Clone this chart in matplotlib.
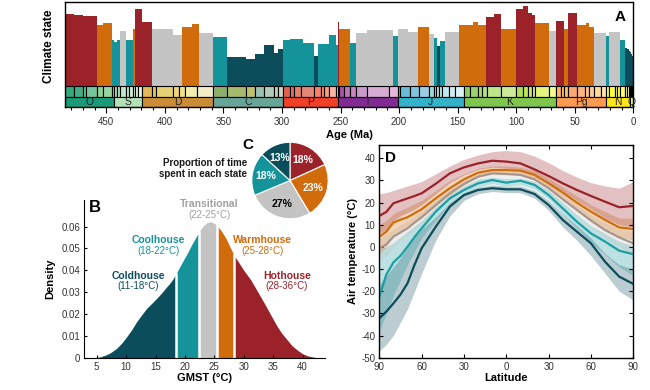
import matplotlib

matplotlib.use("Agg")
import matplotlib.pyplot as plt
import numpy as np

plt.rcParams["font.family"] = ["Liberation Sans", "DejaVu Sans"]
plt.rcParams["axes.unicode_minus"] = False

# climate state colours
COLORS = {
    "cold": "#0c4d5c",
    "cool": "#15939a",
    "tran": "#c4c4c4",
    "warm": "#d06c0c",
    "hot": "#9c2229",
}
LINE_COLORS = {
    "cold": "#0c4d5c",
    "cool": "#1c9ea2",
    "tran": "#a8968c",
    "warm": "#d06c0c",
    "hot": "#9c2229",
}

# ---- panel A: GMST per time bin (bin start age, Ma) ----
bar_start = [485.4, 477.7, 470.0, 458.4, 453.0, 445.2, 443.8, 440.8, 438.5, 433.4,
             427.4, 425.6, 419.2, 410.8, 393.3, 385.0, 377.0, 370.5, 358.9, 346.7,
             330.9, 323.2, 315.2, 307.0, 303.7, 298.9, 293.5, 282.0, 273.0, 269.0,
             259.5, 254.1, 251.9, 251.2, 242.0, 237.0, 227.0, 205.5, 201.3, 192.0,
             183.6, 174.1, 170.3, 167.4, 165.1, 160.8, 148.6, 137.1, 132.4, 125.8,
             119.0, 113.0, 100.5, 93.9, 89.8, 86.3, 83.6, 72.1, 66.0, 59.2,
             56.0, 47.8, 40.0, 37.8, 33.9, 23.0, 20.4, 11.6, 7.2, 5.3,
             3.6, 2.6, 1.8, 0.8]
bar_gmst = [32.5, 32.0, 31.5, 27.7, 28.5, 20.9, 20.0, 20.9, 24.7, 20.9,
            25.8, 34.6, 28.9, 25.8, 22.8, 26.6, 28.1, 23.9, 22.0, 12.9,
            12.2, 14.3, 18.6, 14.8, 16.7, 20.7, 21.3, 19.4, 13.7, 19.0,
            22.8, 18.6, 28.9, 25.8, 19.4, 23.9, 25.1, 22.4, 25.5, 24.3,
            26.6, 23.6, 21.5, 17.9, 20.5, 24.3, 27.4, 28.7, 27.7, 31.2,
            32.3, 25.8, 34.6, 36.1, 33.1, 31.9, 28.5, 24.7, 29.3, 25.8,
            33.1, 27.4, 28.5, 26.6, 23.9, 22.4, 24.3, 20.9, 17.1, 16.7,
            16.0, 15.2, 14.4, 13.7]
bar_state = ["hot", "hot", "hot", "warm", "warm", "cool", "cool", "cool", "tran", "cool",
             "warm", "hot", "hot", "tran", "tran", "warm", "warm", "tran", "cool", "cold",
             "cold", "cold", "cold", "cold", "cold", "cool", "cool", "cool", "cold", "cool",
             "cool", "cool", "hot", "warm", "cool", "tran", "tran", "cool", "tran", "tran",
             "warm", "tran", "cool", "cold", "cool", "tran", "warm", "warm", "warm", "hot",
             "hot", "warm", "hot", "hot", "hot", "hot", "warm", "tran", "hot", "warm",
             "hot", "warm", "warm", "warm", "tran", "cool", "tran", "cool", "cold", "cold",
             "cold", "cold", "cold", "cold"]

# geologic timescale
period_names = ["O", "S", "D", "C", "P", "T", "J", "K", "Pg", "N", "Q"]
period_start = [485.4, 443.8, 419.2, 358.9, 298.9, 251.9, 201.3, 145.0, 66.0, 23.03, 2.58]
period_colors = ["#1a9a78", "#b3e1b6", "#cb8c37", "#67a599", "#f04028", "#812b92",
                 "#34b2c9", "#7fc64e", "#fd9a52", "#ffe619", "#f9f97f"]
stage_start = [485.4, 477.7, 470.0, 467.3, 458.4, 453.0, 445.2,
               443.8, 440.8, 438.5, 433.4, 430.5, 427.4, 425.6, 423.0,
               419.2, 410.8, 407.6, 393.3, 387.7, 382.7, 372.2,
               358.9, 346.7, 330.9, 323.2, 315.2, 307.0, 303.7,
               298.9, 293.5, 290.1, 283.5, 273.0, 266.9, 264.3, 259.5, 254.1,
               251.9, 251.2, 247.2, 242.0, 237.0, 227.0, 208.5,
               201.3, 199.3, 190.8, 182.7, 174.1, 170.3, 168.3, 166.1, 163.5, 157.3, 152.1,
               145.0, 139.8, 132.9, 129.4, 125.0, 113.0, 100.5, 93.9, 89.8, 86.3, 83.6, 72.1,
               66.0, 61.6, 59.2, 56.0, 47.8, 41.2, 37.8, 33.9, 27.8,
               23.03, 20.44, 15.97, 13.82, 11.63, 7.25, 5.33, 3.6,
               2.58, 1.8, 0.77, 0.13]
stage_colors = ["#33a97e", "#41b087", "#66c092", "#74c69c", "#8cd094", "#99d69f", "#a6dbab",
                "#a6dcb5", "#b3e1c2", "#bfe6cf", "#bfe6c3", "#ccecdd", "#ccecdd", "#d9f0df", "#e6f5e1",
                "#e5b75a", "#e5c468", "#e5d075", "#f1d576", "#f1e185", "#f2edad", "#f2edc5",
                "#8cb06c", "#a6b96c", "#bfc26b", "#99c2b5", "#b3cbb9", "#bfd0ba", "#ccd4c7",
                "#e36350", "#e36f5c", "#e38168", "#e38776", "#fb8069", "#fb8d76", "#fb9a85",
                "#fcb4a2", "#fcc0b2",
                "#a4469f", "#b051a5", "#bc75b7", "#c983bf", "#c99bcb", "#d6aad3", "#e3b9db",
                "#4eb3d3", "#67bcd8", "#80c5dd", "#99cee3", "#9ad9dd", "#a6dde0", "#b3e2e3",
                "#bfe7e5", "#bfe7f1", "#ccecf4", "#d9f1f7",
                "#8ccd60", "#99d36a", "#a6d975", "#b3df7f", "#bfe48a", "#ccea97", "#b3de53",
                "#bfe35d", "#cce968", "#d9ef74", "#e6f47f", "#f2fa8c",
                "#fdb462", "#febf65", "#fdbf6f", "#fca773", "#fcb482", "#fdc091", "#fdcda1",
                "#fed99a", "#fee6aa",
                "#ffff33", "#ffff41", "#ffff4d", "#ffff59", "#ffff65", "#ffff73", "#ffffb3",
                "#ffffbf",
                "#ffedb3", "#fff2ba", "#fff2c7", "#fff2d3"]

# ---- panel B: GMST density ----
gmst_x = [4.5, 5.5, 6.5, 7.3, 8.4, 9.3, 10.1, 11.0, 11.8, 12.7, 13.5, 14.4, 15.2, 16.0,
          16.7, 17.5, 18.0, 18.5, 18.8, 19.5, 20.4, 21.2, 22.1, 22.35, 22.6, 23.2, 23.8,
          24.4, 25.0, 25.45, 26.2, 27.0, 27.7, 28.35, 29.0, 30.0, 31.2, 32.4, 33.5, 34.6,
          35.7, 36.5, 37.4, 38.2, 39.1, 40.0, 40.9, 42.0, 42.5]
density = [0.0, 0.0003, 0.0012, 0.0022, 0.0043, 0.0068, 0.0096, 0.013, 0.0165, 0.0198,
           0.0226, 0.025, 0.0272, 0.0295, 0.0318, 0.0343, 0.0362, 0.0385, 0.040, 0.0435,
           0.0478, 0.052, 0.0562, 0.0573, 0.0585, 0.0606, 0.0619, 0.0623, 0.0615, 0.0605,
           0.058, 0.0545, 0.0505, 0.0468, 0.0442, 0.040, 0.0356, 0.030, 0.0249, 0.0195,
           0.0142, 0.011, 0.0081, 0.0055, 0.0035, 0.0018, 0.0008, 0.0002, 0.0]
state_bounds = [4.5, 18.5, 22.35, 25.45, 28.35, 42.5]
state_keys = ["cold", "cool", "tran", "warm", "hot"]
state_names = ["Coldhouse", "Coolhouse", "Transitional", "Warmhouse", "Hothouse"]
state_ranges = ["(11-18°C)", "(18-22°C)", "(22-25°C)", "(25-28°C)", "(28-36°C)"]

# ---- panel C: share of time in each state (%) ----
pie_keys = ["hot", "warm", "tran", "cool", "cold"]
pie_values = [18, 23, 27, 18, 13]

# ---- panel D: zonal mean air temperature ----
lat = [-90, -85, -80, -75, -70, -65, -60, -50, -40, -30, -20, -10, 0, 10, 20, 30, 40, 50,
       60, 70, 80, 90]
temp_mean = {
    "hot": [14.0, 15.8, 19.7, 20.8, 21.9, 23.0, 24.2, 28.5, 33.2, 35.9, 37.7, 38.9, 38.5,
            37.7, 35.0, 32.0, 28.7, 25.7, 23.0, 20.4, 17.9, 18.5],
    "warm": [4.6, 6.9, 11.0, 12.3, 13.4, 15.2, 17.0, 21.9, 26.5, 30.5, 33.5, 34.7, 34.7,
             34.4, 32.5, 28.7, 24.5, 20.0, 15.9, 12.2, 8.8, 8.1],
    "tran": [-0.6, 1.2, 4.6, 6.5, 8.4, 11.0, 13.4, 18.9, 24.2, 28.4, 31.7, 33.2, 32.9,
             32.5, 30.5, 26.5, 21.5, 16.7, 11.9, 7.6, 4.3, 1.6],
    "cool": [-22.5, -12.5, -7.0, -4.0, 0.1, 4.5, 8.4, 15.9, 21.9, 25.7, 28.7, 30.2, 29.0,
             29.9, 28.0, 23.4, 17.4, 11.4, 6.1, 2.4, -1.7, -3.3],
    "cold": [-32.2, -29.2, -25.5, -21.5, -16.4, -8.0, -0.6, 9.1, 18.2, 23.4, 25.7, 26.5,
             26.0, 26.0, 23.9, 18.9, 12.2, 6.9, 1.6, -6.7, -13.4, -16.7],
}
temp_upper = {
    "hot": [24, 24.5, 25.5, 26.5, 27.5, 28.5, 29.5, 33, 36.5, 39.5, 41.5, 43, 43.5, 43,
            41, 38, 34.5, 31.5, 29, 27.5, 26.5, 29.5],
    "warm": [10, 12, 15, 16.5, 18, 19.5, 21, 25.5, 30, 33, 35.5, 36.5, 36.5, 36, 34.5, 31,
             27, 23, 19, 16, 13, 13],
    "tran": [4, 5.5, 8, 10, 12, 14, 16, 21, 26, 30, 33, 34.5, 34.5, 34, 32, 28.5, 23.5,
             19, 14.5, 11, 8, 7],
    "cool": [-1, 0, 2, 4.5, 7, 9.5, 12, 18, 23.5, 27.5, 30.5, 31.5, 31, 31, 29.5, 25.5,
             20, 14.5, 9.5, 6, 2.5, 0.5],
    "cold": [-17, -13, -9, -5, 0, 4.5, 8, 13.5, 20, 24.5, 27, 28, 27.5, 27.5, 25.5, 21,
             15, 9.5, 4, -3, -8, -10],
}
temp_lower = {
    "hot": [6, 8, 12, 14, 15.5, 17, 19, 24, 29, 32.5, 35, 36, 35.5, 35, 32.5, 29, 25, 21,
            17, 13, 10, 9],
    "warm": [-3, 0, 5, 7, 9, 11, 13, 18.5, 23.5, 28, 31.5, 33, 33, 32.5, 30.5, 26.5, 22,
             17, 12, 8, 4.5, 3],
    "tran": [-6, -4, 0, 3, 5, 8, 10.5, 16.5, 22, 26.5, 30, 31.5, 31.5, 31, 29, 24.5,
             19.5, 14, 9, 4, 0, -3],
    "cool": [-38, -30, -22, -15, -8, -2, 4, 12, 19, 23.5, 27, 28.5, 27.5, 28, 26, 21.5,
             15, 8.5, 2, -3.5, -9, -13],
    "cold": [-47, -44, -40, -34, -28, -20, -12, 3, 14, 21, 24, 25, 24.5, 24.5, 22, 16.5,
             9, 3, -4, -12, -20, -24],
}

TXT = "#333333"
W, H = 650, 390


def px_axes(x0, y0, x1, y1):
    # pixel box (top-left origin) -> figure fraction
    return [x0 / W, 1 - y1 / H, (x1 - x0) / W, (y1 - y0) / H]


fig = plt.figure(figsize=(6.5, 3.9), dpi=100)

# ================= A =================
axA = fig.add_axes(px_axes(64.9, 1.7, 633.3, 107.3))
bar_end = bar_start[1:] + [0.0]
axA.bar(bar_end, np.array(bar_gmst), width=np.array(bar_start) - np.array(bar_end),
        align="edge", color=[COLORS[s] for s in bar_state], linewidth=0, zorder=1)

stage_end = stage_start[1:] + [0.0]
axA.bar(stage_end, 4.8, width=np.array(stage_start) - np.array(stage_end), bottom=-4.8,
        align="edge", color=stage_colors, edgecolor="black", linewidth=0.8, zorder=2)
period_end = period_start[1:] + [0.0]
axA.bar(period_end, 4.8, width=np.array(period_start) - np.array(period_end), bottom=-9.6,
        align="edge", color=period_colors, edgecolor="black", linewidth=0.8, zorder=2)
for name, s, e in zip(period_names, period_start, period_end):
    axA.text((s + e) / 2, -7.2, name, ha="center", va="center", fontsize=7.5,
             color="#222222", zorder=3)

axA.set_xlim(485.4, 0)
axA.set_ylim(-9.6, 38)
axA.set_yticks([])
axA.set_xticks(np.arange(0, 451, 50))
axA.set_xticks(np.arange(0, 481, 10), minor=True)
axA.tick_params(axis="x", which="major", direction="out", length=4, width=0.8,
                labelsize=7, labelcolor=TXT, pad=3)
axA.tick_params(axis="x", which="minor", direction="out", length=2.5, width=0.8)
for sp in axA.spines.values():
    sp.set_linewidth(1.0)
axA.set_xlabel("Age (Ma)", fontsize=8, fontweight="bold", labelpad=2)
axA.set_ylabel("Climate state", fontsize=8.5, fontweight="bold")
axA.yaxis.set_label_coords(-0.0175, 0.576)
axA.text(0.977, 0.855, "A", transform=axA.transAxes, ha="center", va="center",
         fontsize=11, fontweight="bold")

# ================= B =================
axB = fig.add_axes(px_axes(84.3, 200, 325, 357.7))
gx = np.array(gmst_x)
gd = np.array(density)
for k, lo, hi in zip(state_keys, state_bounds[:-1], state_bounds[1:]):
    m = (gx >= lo) & (gx <= hi)
    axB.fill_between(gx[m], 0, gd[m], color=COLORS[k], linewidth=0)
for b in state_bounds[1:-1]:
    axB.vlines(b, 0, np.interp(b, gx, gd) + 0.0005, color="white", linewidth=1.8)

label_pos = [(12.1, 0.0376), (15.5, 0.0539), (24.1, 0.0704), (33.2, 0.0539), (37.3, 0.0376)]
label_col = ["#0c4d5c", "#15939a", "#a0a0a0", "#d06c0c", "#9c2229"]
for (x, y), nm, rg, c in zip(label_pos, state_names, state_ranges, label_col):
    axB.text(x, y, nm, ha="center", va="center", fontsize=7.5, fontweight="bold", color=c)
    axB.text(x, y - 0.0049, rg, ha="center", va="center", fontsize=7, color=c)

axB.set_xlim(2.9, 43.8)
axB.set_ylim(0, 0.0722)
axB.set_xticks(np.arange(5, 41, 5))
axB.set_yticks([0, 0.01, 0.02, 0.03, 0.04, 0.05, 0.06])
axB.set_yticklabels(["0", "0.01", "0.02", "0.03", "0.04", "0.05", "0.06"])
axB.tick_params(direction="in", length=2.5, width=0.8, labelsize=7, labelcolor=TXT, pad=3)
axB.spines["top"].set_visible(False)
axB.spines["right"].set_visible(False)
axB.set_xlabel("GMST (°C)", fontsize=8, fontweight="bold", labelpad=1)
axB.set_ylabel("Density", fontsize=8, fontweight="bold", labelpad=4)
axB.text(0.044, 0.95, "B", transform=axB.transAxes, ha="center", va="center",
         fontsize=12, fontweight="bold")

# ================= C =================
axC = fig.add_axes(px_axes(251, 141.5, 329, 219.5))
wedges, _ = axC.pie(pie_values, colors=[COLORS[k] for k in pie_keys], startangle=90,
                    counterclock=False, radius=1,
                    wedgeprops=dict(edgecolor="white", linewidth=0.8))
for w, v, k in zip(wedges, pie_values, pie_keys):
    ang = np.deg2rad((w.theta1 + w.theta2) / 2)
    axC.text(0.64 * np.cos(ang), 0.64 * np.sin(ang), f"{v}%", ha="center", va="center",
             fontsize=7.5, fontweight="bold",
             color="black" if k == "tran" else "white")
axC.set_xlim(-1.02, 1.02)
axC.set_ylim(-1.02, 1.02)
fig.text(248 / W, 1 - 145 / H, "C", ha="center", va="center", fontsize=11,
         fontweight="bold")
fig.text(247 / W, 1 - 168.5 / H, "Proportion of time\nspent in each state", ha="right",
         va="center", fontsize=7, fontweight="bold", color="#1a1a1a", linespacing=1.15)

# ================= D =================
axD = fig.add_axes(px_axes(379.3, 145, 633.3, 357.7))
order = ["cold", "cool", "tran", "warm", "hot"]
for k in order:
    axD.fill_between(lat, temp_lower[k], temp_upper[k], color=COLORS[k], alpha=0.28,
                     linewidth=0)
for k in order:
    axD.plot(lat, temp_mean[k], color=LINE_COLORS[k], linewidth=1.6)
axD.set_xlim(-90, 90)
axD.set_ylim(-50, 46)
axD.set_xticks([-90, -60, -30, 0, 30, 60, 90])
axD.set_xticklabels(["90", "60", "30", "0", "30", "60", "90"])
axD.set_yticks(np.arange(-50, 41, 10))
axD.tick_params(direction="in", top=True, right=True, length=3, width=0.8, labelsize=7,
                labelcolor=TXT, pad=3)
for sp in axD.spines.values():
    sp.set_linewidth(1.0)
axD.set_xlabel("Latitude", fontsize=8, fontweight="bold", labelpad=1)
axD.set_ylabel("Air temperature (°C)", fontsize=8, fontweight="bold", labelpad=2)
axD.text(0.043, 0.94, "D", transform=axD.transAxes, ha="center", va="center",
         fontsize=11, fontweight="bold")

fig.savefig("out.png", dpi=100)
